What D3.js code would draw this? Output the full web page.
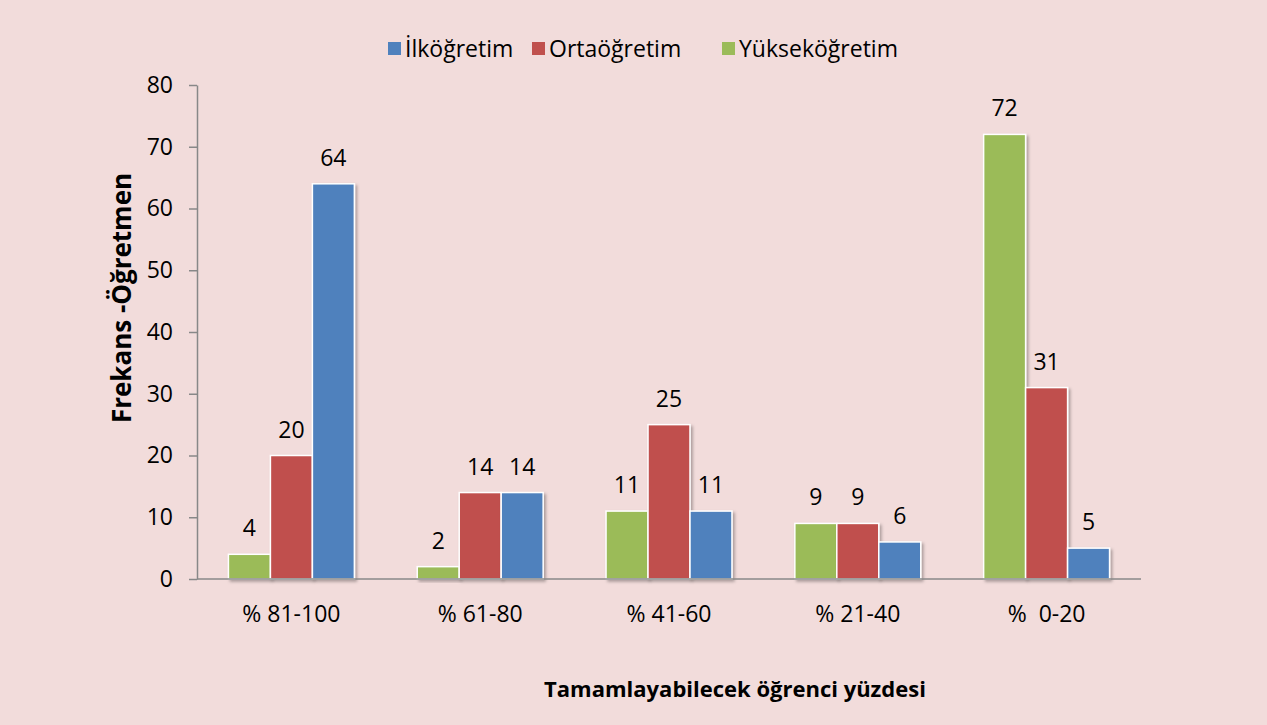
<!DOCTYPE html>
<html><head><meta charset="utf-8">
<script src="https://cdn.jsdelivr.net/npm/d3@7"></script>
<style>
body{margin:0;background:#f2dcdb;}
svg{display:block;font-family:"Open Sans",sans-serif;}
</style></head><body>
<svg id="c" width="1267" height="725"></svg>
<script>
const categories = ["% 81-100","% 61-80","% 41-60","% 21-40","%  0-20"];
const seriesNames = ["Yükseköğretim","Ortaöğretim","İlköğretim"];
const yuksek = [4,2,11,9,72];
const orta = [20,14,25,9,31];
const ilk = [64,14,11,6,5];
const yTicks = [0,10,20,30,40,50,60,70,80];
const legendOrder = ["İlköğretim","Ortaöğretim","Yükseköğretim"];
const colors = {"Yükseköğretim":"#9bbb59","Ortaöğretim":"#c0504d","İlköğretim":"#4f81bd"};
const values = {"Yükseköğretim":yuksek,"Ortaöğretim":orta,"İlköğretim":ilk};
const FONT = "'Open Sans',sans-serif";
const FS = 23;

const svg = d3.select("#c");
svg.append("rect").attr("width",1267).attr("height",725).attr("fill","#f2dcdb");
const defs = svg.append("defs");
const f = defs.append("filter").attr("id","sh").attr("x","-20%").attr("y","-20%").attr("width","150%").attr("height","150%");
f.append("feDropShadow").attr("dx",2).attr("dy",2).attr("stdDeviation",1.5).attr("flood-color","#000").attr("flood-opacity",0.3);

const pLeft=197, pRight=1141, pTop=85, pBottom=579;
const x0 = d3.scaleBand().domain(categories).range([pLeft,pRight]).paddingInner(0.333).paddingOuter(0.1665);
const x1 = d3.scaleBand().domain(seriesNames).range([0,x0.bandwidth()]);
const y = d3.scaleLinear().domain([0,80]).range([pBottom,pTop]);

// y axis
const ya = svg.append("g").attr("transform",`translate(${pLeft},0)`)
  .call(d3.axisLeft(y).tickValues(yTicks).tickSize(8).tickPadding(16).tickSizeOuter(0));
ya.select(".domain").attr("stroke","#888").attr("stroke-width",1.5);
ya.selectAll(".tick line").attr("stroke","#888").attr("stroke-width",1.5);
ya.selectAll("text").attr("font-size",FS).attr("fill","#000").attr("font-family",FONT);

// bars
const g = svg.append("g");
categories.forEach((c,i)=>{
  seriesNames.forEach(s=>{
    const v = values[s][i];
    g.append("rect")
      .attr("x",x0(c)+x1(s)).attr("y",y(v))
      .attr("width",x1.bandwidth()).attr("height",y(0)-y(v))
      .attr("fill",colors[s]).attr("stroke","#fff").attr("stroke-width",1.5)
      .attr("filter","url(#sh)");
    svg.append("text").attr("x",x0(c)+x1(s)+x1.bandwidth()/2).attr("y",y(v)-18)
      .attr("text-anchor","middle").attr("font-size",FS).attr("font-family",FONT).text(v);
  });
});

// x axis
const xa = svg.append("g").attr("transform",`translate(0,${pBottom})`)
  .call(d3.axisBottom(x0).tickSize(0).tickPadding(27));
xa.select(".domain").attr("stroke","#888").attr("stroke-width",1.5).attr("d",`M${pLeft},0H${pRight}`);
xa.selectAll("text").attr("font-size",FS).attr("fill","#000").attr("font-family",FONT).style("white-space","pre").attr("xml:space","preserve");

// axis titles
svg.append("text").attr("transform","translate(131,298) rotate(-90)").attr("text-anchor","middle")
  .attr("font-size",26).attr("font-weight","bold").attr("font-family",FONT).text("Frekans -Öğretmen");
svg.append("text").attr("x",735).attr("y",697).attr("text-anchor","middle")
  .attr("font-size",22).attr("font-weight","bold").attr("font-family",FONT).text("Tamamlayabilecek öğrenci yüzdesi");

// legend
const legX = [388,532,722];
legendOrder.forEach((s,i)=>{
  svg.append("rect").attr("x",legX[i]).attr("y",42).attr("width",13).attr("height",13).attr("fill",colors[s]);
  svg.append("text").attr("x",legX[i]+17).attr("y",57).attr("font-size",FS).attr("font-family",FONT).text(s);
});
</script></body></html>
